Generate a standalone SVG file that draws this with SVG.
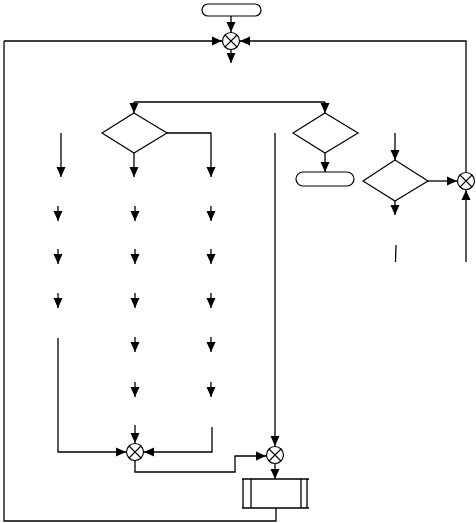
<svg xmlns="http://www.w3.org/2000/svg" width="476" height="523" viewBox="0 0 476 523">
<style>
.n{fill:#fff;stroke:#000;stroke-width:1.2}
.c{fill:none;stroke:#000;stroke-width:1.3}
.a{fill:none;stroke:#000;stroke-width:1.3;marker-end:url(#ah)}
</style>
<defs>
<marker id="ah" viewBox="0 0 10 10" refX="10" refY="5" markerUnits="userSpaceOnUse" markerWidth="10" markerHeight="10" orient="auto">
<path d="M0,0.5 L10,5 L0,9.5 z" fill="#000"/>
</marker>
<g id="sum"><circle r="8.5" class="n"/><path d="M-6,-6 L6,6 M6,-6 L-6,6" stroke="#000" stroke-width="1.1"/></g>
</defs>
<rect width="476" height="523" fill="#fff"/>
<g id="connectors">
<path class="a" d="M231,16 V32"/>
<path class="a" d="M4,41 H222"/>
<path class="c" d="M4,41 V521 H276 V508"/>
<path class="a" d="M466,172 V41 H240"/>
<path class="a" d="M231,50 V63"/>
<path class="c" d="M134,102 H325"/>
<path class="a" d="M134,102 V113"/>
<path class="a" d="M325,102 V113"/>
<path class="a" d="M134,153 V177"/>
<path class="a" d="M167,133 H211 V177"/>
<path class="a" d="M61,133 V177"/>
<path class="a" d="M58,206 V221"/>
<path class="a" d="M58,249 V264"/>
<path class="a" d="M58,293 V308"/>
<path class="a" d="M135,206 V221"/>
<path class="a" d="M135,249 V264"/>
<path class="a" d="M135,293 V308"/>
<path class="a" d="M135,337 V352"/>
<path class="a" d="M135,382 V397"/>
<path class="a" d="M211,206 V221"/>
<path class="a" d="M211,249 V264"/>
<path class="a" d="M211,293 V308"/>
<path class="a" d="M211,337 V352"/>
<path class="a" d="M211,382 V397"/>
<path class="a" d="M58,338 V452 H126"/>
<path class="a" d="M135,425 V443"/>
<path class="a" d="M212,427 V452 H144"/>
<path class="a" d="M135,461 V472 H235 V456 H266"/>
<path class="a" d="M275,133 V446"/>
<path class="a" d="M275,464 V479"/>
<path class="a" d="M325,153 V172"/>
<path class="a" d="M395,133 V160"/>
<path class="a" d="M395,201 V215"/>
<path class="a" d="M428,181 H457"/>
<path class="a" d="M466,262 V190"/>
<path class="c" d="M396,245 L395.5,262"/>
</g>
<g id="start"><rect class="n" x="202" y="4" width="59" height="12" rx="6"/></g>
<g id="sumA"><use href="#sum" x="231" y="41"/></g>
<g id="decision1"><polygon class="n" points="134,113 167,133 134,153 102,133"/></g>
<g id="decision2"><polygon class="n" points="325,113 358,133 325,153 293,133"/></g>
<g id="end"><rect class="n" x="296" y="172" width="58" height="14" rx="7"/></g>
<g id="decision3"><polygon class="n" points="395,160 428,181 395,201 363,181"/></g>
<g id="sumD"><use href="#sum" x="466" y="181"/></g>
<g id="sumB"><use href="#sum" x="135" y="452"/></g>
<g id="sumC"><use href="#sum" x="275" y="455"/></g>
<g id="process"><path class="c" d="M242,479 H309 M242,508 H309 M243,479 V508 M251,479 V508 M301,479 V508 M307,479 V508"/></g>
</svg>
